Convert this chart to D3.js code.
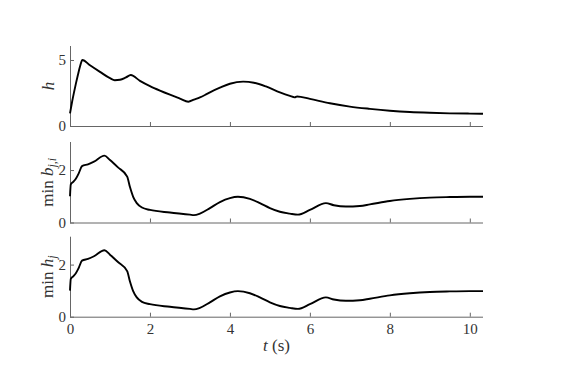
<!DOCTYPE html>
<html>
<head>
<meta charset="utf-8">
<script src="https://cdn.jsdelivr.net/npm/d3@7/dist/d3.min.js"></script>
<style>
  html, body { margin: 0; padding: 0; background: #fff; }
  svg { display: block; }
</style>
</head>
<body>
<svg id="chart" width="562" height="376"></svg>
<script>
// ---- data ----
const tH = [0, 0.05, 0.1, 0.15, 0.2, 0.25, 0.31, 0.5, 0.75, 1.0, 1.12, 1.25, 1.4, 1.52, 1.75, 2.0, 2.25, 2.5, 2.75, 2.96, 3.1, 3.25, 3.375, 3.5, 3.75, 4.0, 4.33, 4.6, 4.9, 5.25, 5.5, 5.62, 5.68, 6.0, 6.5, 7.0, 7.5, 8.0, 8.5, 9.0, 9.5, 10.0, 10.33];
const hVals = [0.96, 1.8, 2.55, 3.25, 3.9, 4.5, 5.0, 4.6, 4.1, 3.62, 3.47, 3.5, 3.68, 3.86, 3.42, 3.02, 2.68, 2.37, 2.08, 1.84, 2.0, 2.17, 2.35, 2.55, 2.9, 3.2, 3.36, 3.28, 3.0, 2.55, 2.28, 2.17, 2.24, 2.05, 1.72, 1.47, 1.3, 1.16, 1.06, 1.0, 0.96, 0.94, 0.93];

const tMin = [0, 0.02, 0.08, 0.15, 0.22, 0.3, 0.45, 0.6, 0.86, 1.0, 1.2, 1.43, 1.5, 1.58, 1.67, 1.8, 2.0, 2.5, 3.0, 3.1, 3.25, 3.5, 3.75, 4.0, 4.2, 4.5, 4.75, 5.0, 5.25, 5.5, 5.7, 6.0, 6.4, 6.6, 6.9, 7.25, 7.5, 8.0, 8.5, 9.0, 9.5, 10.0, 10.33];
const minBji = [1.0, 1.45, 1.55, 1.68, 1.88, 2.15, 2.22, 2.32, 2.55, 2.38, 2.1, 1.75, 1.35, 0.98, 0.74, 0.57, 0.48, 0.38, 0.3, 0.28, 0.34, 0.55, 0.78, 0.93, 0.98, 0.9, 0.74, 0.55, 0.41, 0.34, 0.3, 0.48, 0.74, 0.66, 0.61, 0.63, 0.69, 0.82, 0.9, 0.95, 0.97, 0.98, 0.98];
const minHj  = [1.0, 1.45, 1.55, 1.68, 1.88, 2.15, 2.22, 2.32, 2.55, 2.38, 2.1, 1.75, 1.35, 0.98, 0.74, 0.57, 0.48, 0.38, 0.3, 0.28, 0.34, 0.55, 0.78, 0.93, 0.98, 0.9, 0.74, 0.55, 0.41, 0.34, 0.3, 0.48, 0.74, 0.66, 0.61, 0.63, 0.69, 0.82, 0.9, 0.95, 0.97, 0.98, 0.98];

const xTicks = [0, 2, 4, 6, 8, 10];
const yTicksH = [0, 5];
const yTicksMin = [0, 2];
const xDomain = [0, 10.33];
const yDomainH = [0, 6.06];
const yDomainMin = [0, 3.07];

// ---- layout ----
const FONT = '"Liberation Serif", monospace';
const TXT = "#333";
const svg = d3.select("#chart");
const left = 70, right = 483;
const panels = [
  { t: tH, v: hVals, top: 46, bottom: 126, yDomain: yDomainH, yTicks: yTicksH, label: [["h", "italic", false]], lx: 53.5 },
  { t: tMin, v: minBji, top: 142, bottom: 222.5, yDomain: yDomainMin, yTicks: yTicksMin, label: [["min ", "normal", false], ["b", "italic", false], ["j,i", "italic", true]], lx: 53 },
  { t: tMin, v: minHj, top: 236.7, bottom: 316.7, yDomain: yDomainMin, yTicks: yTicksMin, label: [["min ", "normal", false], ["h", "italic", false], ["j", "italic", true]], lx: 53 }
];

const x = d3.scaleLinear().domain(xDomain).range([left, right]);
const axisColor = "#666";

panels.forEach((p, i) => {
  const y = d3.scaleLinear().domain(p.yDomain).range([p.bottom, p.top]);
  const g = svg.append("g");

  const xa = g.append("g")
    .attr("transform", `translate(0,${p.bottom})`)
    .call(d3.axisBottom(x).tickValues(xTicks).tickSizeInner(-4).tickSizeOuter(0).tickPadding(7)
      .tickFormat(i === 2 ? d3.format("d") : () => ""));
  const ya = g.append("g")
    .attr("transform", `translate(${left},0)`)
    .call(d3.axisLeft(y).tickValues(p.yTicks).tickSizeInner(-4).tickSizeOuter(0).tickPadding(4)
      .tickFormat(d3.format("d")));

  [xa, ya].forEach(a => {
    a.attr("font-family", null).attr("font-size", null);
    a.select(".domain").attr("stroke", axisColor).attr("stroke-width", 1);
    a.selectAll(".tick line").attr("stroke", axisColor).attr("stroke-width", 1);
    a.selectAll(".tick text")
      .style("font-family", FONT).style("font-size", "15px").style("fill", TXT);
  });
  xa.select(".domain").attr("d", `M${left},0.5H${right}`);
  ya.select(".domain").attr("d", `M0.5,${p.bottom}V${p.top}`);

  const line = d3.line()
    .x((d, k) => x(p.t[k]))
    .y(d => y(d))
    .curve(d3.curveMonotoneX);
  g.append("path")
    .datum(p.v)
    .attr("fill", "none")
    .attr("stroke", "#000")
    .attr("stroke-width", 1.9)
    .attr("stroke-linejoin", "round")
    .attr("d", line);

  const cy = (p.top + p.bottom) / 2;
  const lab = g.append("text")
    .attr("transform", `translate(${p.lx},${cy}) rotate(-90)`)
    .attr("text-anchor", "middle")
    .style("font-family", FONT)
    .style("font-size", "17px")
    .style("fill", TXT);
  p.label.forEach(([s, st, sub]) => {
    const ts = lab.append("tspan").text(s).style("font-style", st);
    if (sub) ts.attr("dy", 2.5).style("font-size", "12px");
  });
});

const xl = svg.append("text")
  .attr("x", (left + right) / 2)
  .attr("y", 351)
  .attr("text-anchor", "middle")
  .style("font-family", FONT)
  .style("font-size", "17px")
  .style("fill", TXT);
xl.append("tspan").text("t").style("font-style", "italic");
xl.append("tspan").text(" (s)");
</script>
</body>
</html>
